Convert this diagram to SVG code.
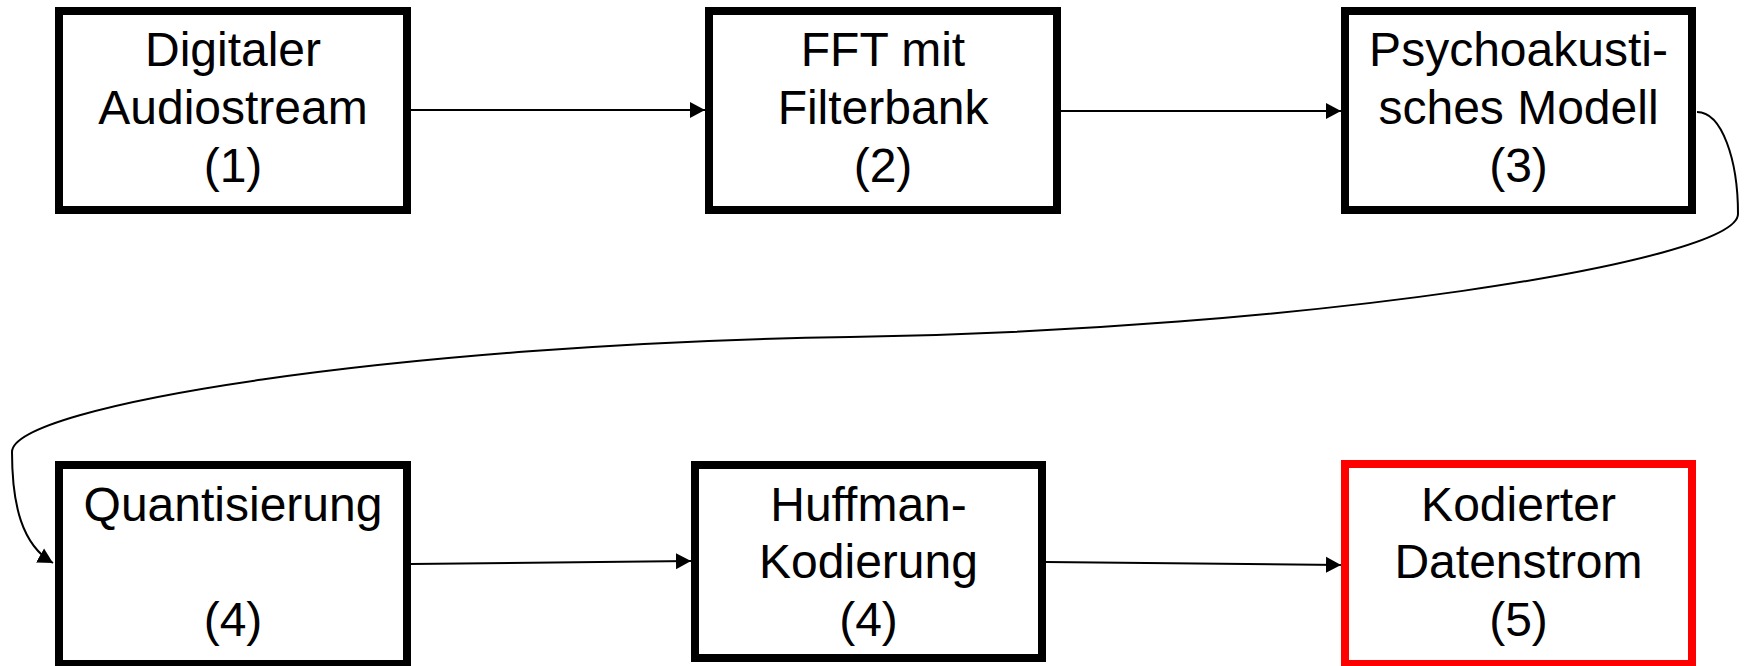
<svg xmlns="http://www.w3.org/2000/svg" width="1744" height="666" viewBox="0 0 1744 666">
  <style>
    .box { fill: #ffffff; stroke: #000000; stroke-width: 8; }
    .red { stroke: #ff0000; }
    .lbl { font-family: "Liberation Sans", Arial, sans-serif; font-size: 48px; fill: #000000; text-anchor: middle; }
    .conn { fill: none; stroke: #000000; stroke-width: 2; }
  </style>
  <defs>
    <marker id="arrow" markerUnits="userSpaceOnUse" markerWidth="16" markerHeight="18" viewBox="0 0 16 18" refX="15" refY="9" orient="auto">
      <path d="M0,1 L15,9 L0,17 z" fill="#000000"/>
    </marker>
  </defs>
  <rect width="1744" height="666" fill="#ffffff"/>

  <g id="connectors">
    <path class="conn" d="M411,110 L705,110" marker-end="url(#arrow)"/>
    <path class="conn" d="M1061,111 L1341,111" marker-end="url(#arrow)"/>
    <path class="conn" d="M1697,112 C1722,112 1738,160 1738,214 C1738,262 1300,330 850,337 C400,344 12,405 12,452 C12,505 22,545 53,563" marker-end="url(#arrow)"/>
    <path class="conn" d="M411,564 L691,561" marker-end="url(#arrow)"/>
    <path class="conn" d="M1046,562 L1341,565" marker-end="url(#arrow)"/>
  </g>

  <g id="node1">
    <rect class="box" x="59" y="11" width="348" height="199"/>
    <text class="lbl" x="233" y="66">Digitaler</text>
    <text class="lbl" x="233" y="124">Audiostream</text>
    <text class="lbl" x="233" y="182">(1)</text>
  </g>
  <g id="node2">
    <rect class="box" x="709" y="11" width="348" height="199"/>
    <text class="lbl" x="883" y="66">FFT mit</text>
    <text class="lbl" x="883" y="124">Filterbank</text>
    <text class="lbl" x="883" y="182">(2)</text>
  </g>
  <g id="node3">
    <rect class="box" x="1345" y="11" width="347" height="199"/>
    <text class="lbl" x="1518.5" y="66">Psychoakusti-</text>
    <text class="lbl" x="1518.5" y="124">sches Modell</text>
    <text class="lbl" x="1518.5" y="182">(3)</text>
  </g>
  <g id="node4">
    <rect class="box" x="59" y="465" width="348" height="199"/>
    <text class="lbl" x="233" y="521">Quantisierung</text>
    <text class="lbl" x="233" y="636">(4)</text>
  </g>
  <g id="node5">
    <rect class="box" x="695" y="465" width="347" height="193"/>
    <text class="lbl" x="868.5" y="521">Huffman-</text>
    <text class="lbl" x="868.5" y="578">Kodierung</text>
    <text class="lbl" x="868.5" y="636">(4)</text>
  </g>
  <g id="node6">
    <rect class="box red" x="1345" y="464" width="347" height="200"/>
    <text class="lbl" x="1518.5" y="521">Kodierter</text>
    <text class="lbl" x="1518.5" y="578">Datenstrom</text>
    <text class="lbl" x="1518.5" y="636">(5)</text>
  </g>
</svg>
